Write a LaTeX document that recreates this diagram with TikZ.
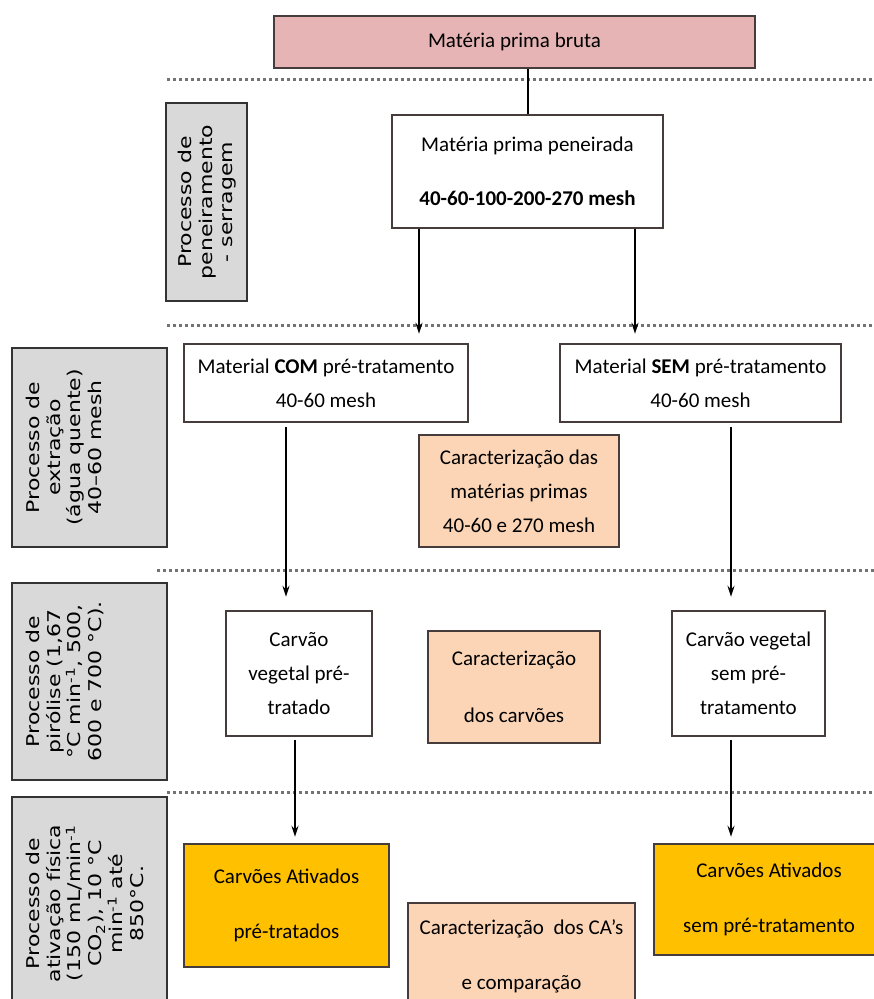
\documentclass[tikz,border=0pt]{standalone}
\usepackage{fontspec}
\setmainfont{Carlito}
\newfontfamily\verd{DejaVu Sans}
\usetikzlibrary{arrows.meta, positioning, calc}

\definecolor{brutafill}{RGB}{230,180,180}
\definecolor{carfill}{RGB}{251,213,182}
\definecolor{cafill}{RGB}{255,192,0}
\definecolor{phfill}{RGB}{217,217,217}
\definecolor{edge}{RGB}{70,60,60}

\begin{document}
\begin{tikzpicture}[x=1pt, y=-1pt, font=\fontsize{21}{34}\selectfont,
   box/.style={draw=edge, line width=2.4pt, align=center, inner sep=0pt},
   wbox/.style={box, fill=white},
   cbox/.style={box, fill=carfill},
   abox/.style={box, fill=cafill},
   phase/.style={draw=gray!40!black, line width=2.4pt, fill=phfill, inner sep=0pt},
   phtxt/.style={rotate=90, yscale=0.8, anchor=north, align=center, inner sep=0pt,
                 font=\verd\fontsize{22}{26}\selectfont},
   sep/.style={black!55, line width=3pt, dash pattern=on 3pt off 3pt},
   arr/.style={-{Stealth[length=11pt, width=7pt]}, line width=2pt}]
\useasboundingbox (0,0) rectangle (874,999);
\clip (0,0) rectangle (874,999);

\draw[sep] (167,79) -- (874,79);
\draw[sep] (167,325) -- (874,325);
\draw[sep] (157,570) -- (874,570);
\draw[sep] (167,792) -- (874,792);

\node[phase, minimum width=81, minimum height=198] (ph1) at (206.5,202) {};
\node[phase, minimum width=155, minimum height=199] (ph2) at (89.5,447.5) {};
\node[phase, minimum width=155, minimum height=197] (ph3) at (89.5,681.5) {};
\node[phase, minimum width=155, minimum height=213] (ph4) at (89.5,903.5) {};
\node[phtxt] (ph1t) at ([xshift=13pt]ph1.west) {Processo de\\peneiramento\\- serragem};
\node[phtxt] (ph2t) at ([xshift=15pt]ph2.west) {Processo de\\extração\\(água quente)\\40–60 mesh};
\node[phtxt] (ph3t) at ([xshift=15pt]ph3.west) {Processo de\\pirólise (1,67\\°C min\textsuperscript{-1}, 500,\\600 e 700 °C).};
\node[phtxt] (ph4t) at ([xshift=15pt]ph4.west) {Processo de\\ativação física\\(150 mL/min\textsuperscript{-1}\\CO\textsubscript{2}), 10 °C\\min\textsuperscript{-1} até\\850°C.};

\node[box, fill=brutafill, minimum width=481, minimum height=52] (bruta) at (514.5,42) {Matéria prima bruta};
\node[wbox, minimum width=271, minimum height=113] (sieve) at (527.5,171.5) {Matéria prima peneirada\\[20pt]\textbf{40-60-100-200-270 mesh}};
\node[wbox, minimum width=284, minimum height=78] (com) at (326,383) {Material \textbf{COM} pré-tratamento\\40-60 mesh};
\node[wbox, minimum width=281, minimum height=78] (sem) at (700.5,383) {Material \textbf{SEM} pré-tratamento\\40-60 mesh};
\node[cbox, minimum width=200, minimum height=112] (carMP) at (519,491) {Caracterização das\\matérias primas\\40-60 e 270 mesh};
\node[wbox, minimum width=146, minimum height=125] (cvp) at (299,673.5) {Carvão\\vegetal pré-\\tratado};
\node[cbox, minimum width=172, minimum height=112] (carCv) at (514,687) {Caracterização\\[23pt]dos carvões};
\node[wbox, minimum width=153, minimum height=125] (cvs) at (748.5,673.5) {Carvão vegetal\\sem pré-\\tratamento};
\node[abox, minimum width=205, minimum height=123] (cap) at (286.5,905.5) {Carvões Ativados\\[21pt]pré-tratados};
\node[abox, minimum width=230, minimum height=111] (cas) at (769,899.5) {Carvões Ativados\\[21pt]sem pré-tratamento};
\node[cbox, minimum width=227, minimum height=107] (carCA) at (521.5,956.5) {Caracterização\ \ dos CA’s\\[21pt]e comparação};

\draw[line width=2pt] (sieve.north |- bruta.south) -- (sieve.north);
\coordinate (s1) at ([xshift=-108.5pt]sieve.south);
\coordinate (s2) at ([xshift=107.5pt]sieve.south);
\draw[arr, shorten >=9pt] (s1) -- (s1 |- com.north);
\draw[arr, shorten >=9pt] (s2) -- (s2 |- sem.north);
\coordinate (c1) at ([xshift=-40pt]com.south);
\coordinate (c2) at ([xshift=30.5pt]sem.south);
\draw[arr, shorten <=4pt, shorten >=13pt] (c1) -- (c1 |- cvp.north);
\draw[arr, shorten <=4pt, shorten >=13pt] (c2) -- (c2 |- cvs.north);
\coordinate (v1) at ([xshift=-4pt]cvp.south);
\coordinate (v2) at ([xshift=-17.5pt]cvs.south);
\draw[arr, shorten <=3pt, shorten >=6pt] (v1) -- (v1 |- cap.north);
\draw[arr, shorten <=3pt, shorten >=6pt] (v2) -- (v2 |- cas.north);
\end{tikzpicture}
\end{document}
